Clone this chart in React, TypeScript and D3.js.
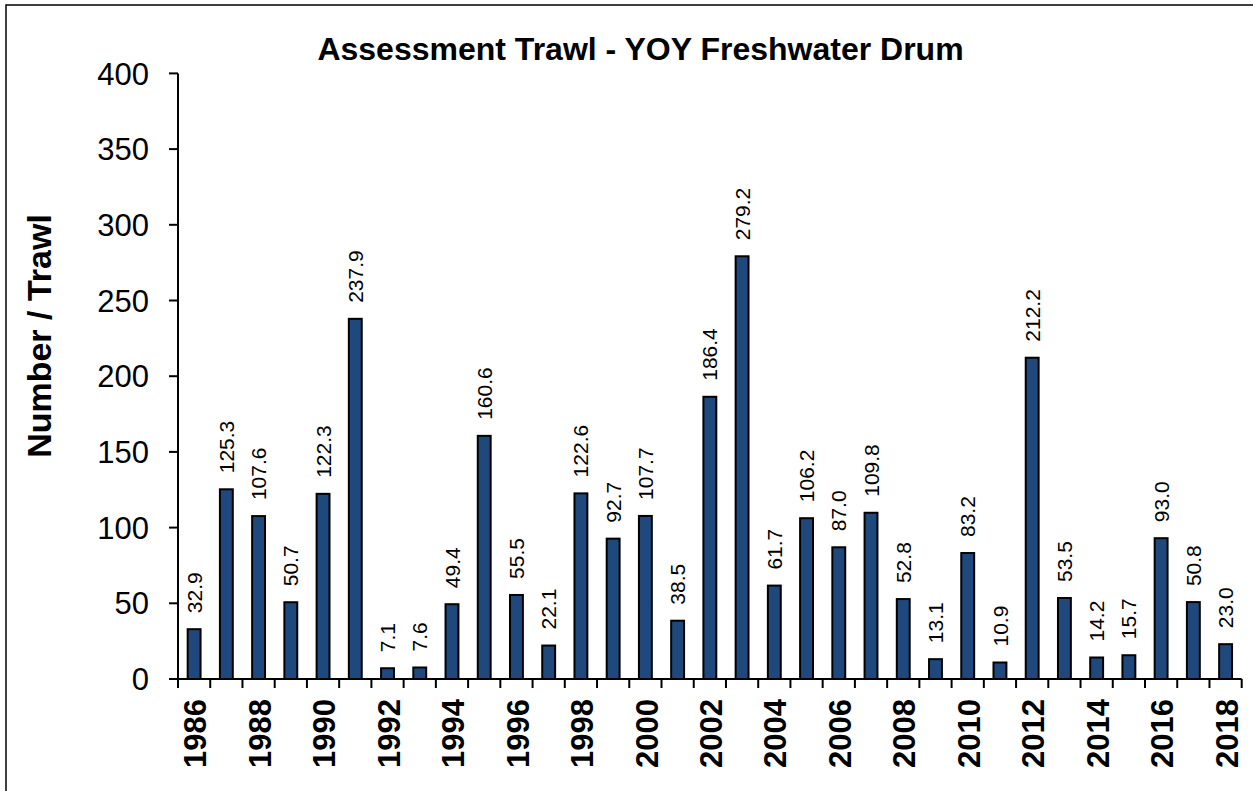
import React from 'react';
import * as d3 from 'd3';

const years = [
  1986, 1987, 1988, 1989, 1990, 1991, 1992, 1993, 1994, 1995, 1996,
  1997, 1998, 1999, 2000, 2001, 2002, 2003, 2004, 2005, 2006, 2007,
  2008, 2009, 2010, 2011, 2012, 2013, 2014, 2015, 2016, 2017, 2018,
];
const perTrawl = [
  32.9, 125.3, 107.6, 50.7, 122.3, 237.9, 7.1, 7.6, 49.4, 160.6, 55.5,
  22.1, 122.6, 92.7, 107.7, 38.5, 186.4, 279.2, 61.7, 106.2, 87.0, 109.8,
  52.8, 13.1, 83.2, 10.9, 212.2, 53.5, 14.2, 15.7, 93.0, 50.8, 23.0,
];
const yTicks = [0, 50, 100, 150, 200, 250, 300, 350, 400];

const W = 1253;
const H = 791;
const FONT = "'Liberation Sans', Arial, Helvetica, sans-serif";

export default function App() {
  const x = d3.scaleBand<number>().domain(years).range([178, 1241.7]).padding(0);
  const y = d3.scaleLinear().domain([0, 400]).range([679, 73.4]);
  const bw = x.bandwidth();
  const barW = bw * 0.4;
  const bounds = years.map((yr) => x(yr)!).concat([x.range()[1]]);

  return (
    <svg
      width={W}
      height={H}
      style={{ position: 'absolute', left: 0, top: 0, background: '#fff' }}
      fontFamily={FONT}
    >
      <rect x={6} y={5} width={W + 20} height={H + 20} fill="#fff" stroke="#000" strokeWidth={1.5} />

      <text x={640.5} y={60} textAnchor="middle" fontWeight="bold" fontSize={32}>
        Assessment Trawl - YOY Freshwater Drum
      </text>

      <text
        transform={`translate(39,336) rotate(-90)`}
        dy="0.36em"
        textAnchor="middle"
        fontWeight="bold"
        fontSize={34}
      >
        Number / Trawl
      </text>

      {/* y axis */}
      <line x1={178} x2={178} y1={y(400)} y2={y(0)} stroke="#000" strokeWidth={2} />
      {yTicks.map((t) => (
        <g key={t}>
          <line x1={169} x2={178} y1={y(t)} y2={y(t)} stroke="#000" strokeWidth={2} />
          <text x={149} y={y(t)} dy="0.36em" textAnchor="end" fontSize={31}>
            {t}
          </text>
        </g>
      ))}

      {/* bars */}
      {years.map((yr, i) => {
        const cx = x(yr)! + bw / 2;
        const v = perTrawl[i];
        return (
          <g key={yr}>
            <rect
              x={cx - barW / 2}
              y={y(v)}
              width={barW}
              height={y(0) - y(v)}
              fill="#1F497D"
              stroke="#000"
              strokeWidth={2}
            />
            <text
              transform={`translate(${cx},${y(v) - 16}) rotate(-90)`}
              dy="0.36em"
              textAnchor="start"
              fontSize={21}
            >
              {v.toFixed(1)}
            </text>
          </g>
        );
      })}

      {/* x axis */}
      <line x1={178} x2={x.range()[1]} y1={y(0)} y2={y(0)} stroke="#000" strokeWidth={2} />
      {bounds.map((bx, i) => (
        <line key={i} x1={bx} x2={bx} y1={y(0)} y2={y(0) + 9} stroke="#000" strokeWidth={2} />
      ))}
      {years
        .filter((yr) => yr % 2 === 0)
        .map((yr) => (
          <text
            key={yr}
            transform={`translate(${x(yr)! + bw / 2 + 1},699) rotate(-90)`}
            dy="0.36em"
            textAnchor="end"
            fontWeight="bold"
            fontSize={31}
          >
            {yr}
          </text>
        ))}
    </svg>
  );
}
